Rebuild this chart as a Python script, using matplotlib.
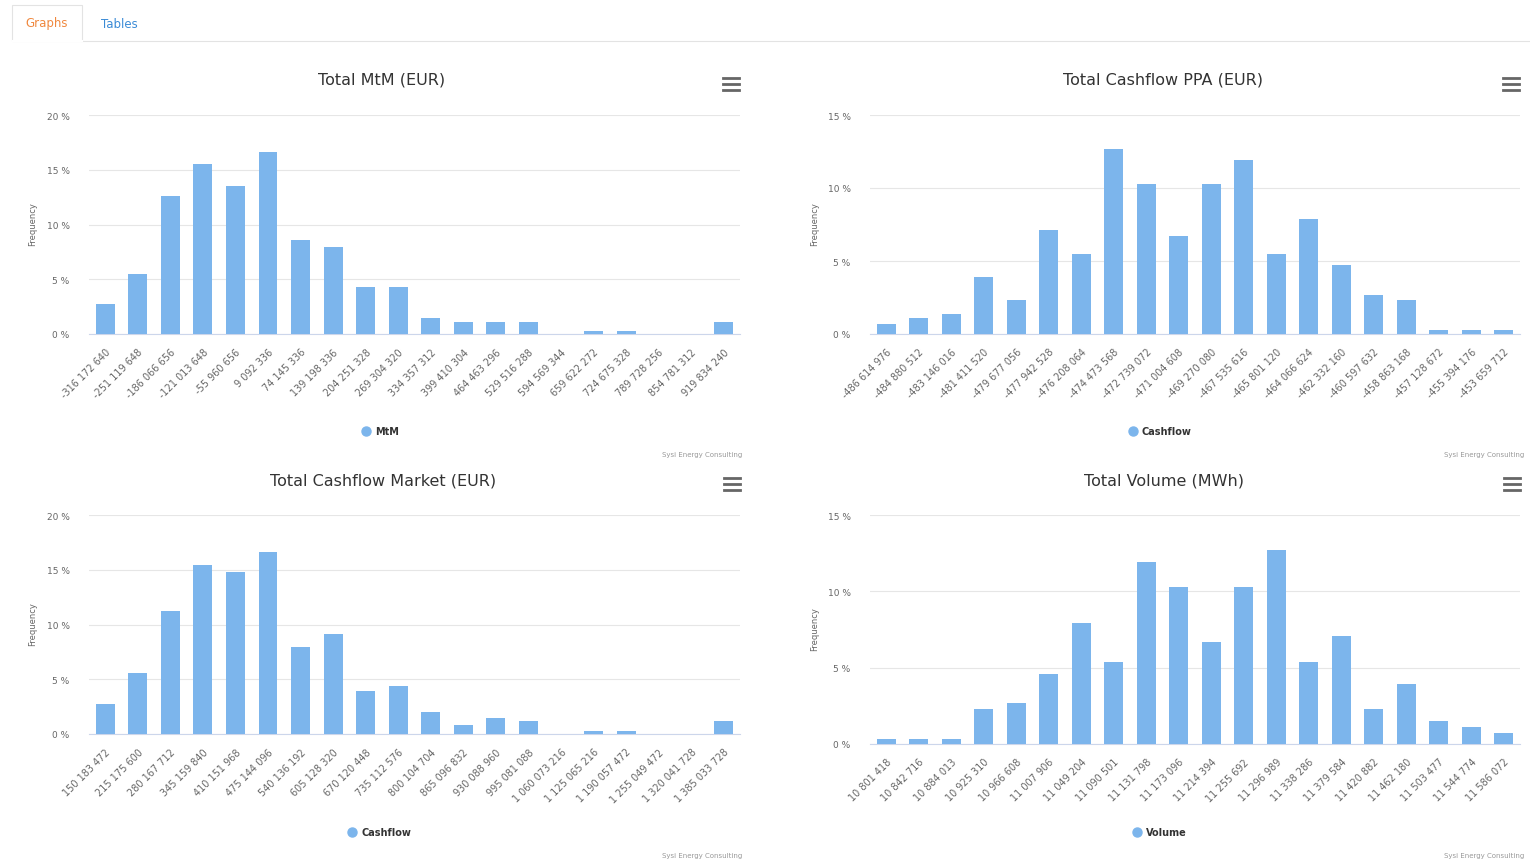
import numpy as np
import matplotlib
matplotlib.use("Agg")
import matplotlib.pyplot as plt
from matplotlib.lines import Line2D
from matplotlib.patches import Rectangle

W, H = 1530, 862
BAR = "#7cb5ec"
GRID = "#e6e6e6"
TXT = "#666666"

# ---------------------------------------------------------------- data
mtm_labels = ["-316 172 640", "-251 119 648", "-186 066 656", "-121 013 648",
              "-55 960 656", "9 092 336", "74 145 336", "139 198 336",
              "204 251 328", "269 304 320", "334 357 312", "399 410 304",
              "464 463 296", "529 516 288", "594 569 344", "659 622 272",
              "724 675 328", "789 728 256", "854 781 312", "919 834 240"]
mtm_freq = [2.7, 5.5, 12.6, 15.5, 13.5, 16.6, 8.6, 7.9, 4.3, 4.3,
            1.5, 1.1, 1.1, 1.1, 0.0, 0.3, 0.3, 0.0, 0.0, 1.1]

ppa_labels = ["-486 614 976", "-484 880 512", "-483 146 016", "-481 411 520",
              "-479 677 056", "-477 942 528", "-476 208 064", "-474 473 568",
              "-472 739 072", "-471 004 608", "-469 270 080", "-467 535 616",
              "-465 801 120", "-464 066 624", "-462 332 160", "-460 597 632",
              "-458 863 168", "-457 128 672", "-455 394 176", "-453 659 712"]
ppa_freq = [0.7, 1.1, 1.4, 3.9, 2.3, 7.1, 5.5, 12.7, 10.3, 6.7,
            10.3, 11.9, 5.5, 7.9, 4.7, 2.7, 2.3, 0.3, 0.3, 0.3]

mkt_labels = ["150 183 472", "215 175 600", "280 167 712", "345 159 840",
              "410 151 968", "475 144 096", "540 136 192", "605 128 320",
              "670 120 448", "735 112 576", "800 104 704", "865 096 832",
              "930 088 960", "995 081 088", "1 060 073 216", "1 125 065 216",
              "1 190 057 472", "1 255 049 472", "1 320 041 728", "1 385 033 728"]
mkt_freq = [2.7, 5.6, 11.2, 15.4, 14.8, 16.6, 7.9, 9.1, 3.9, 4.4,
            2.0, 0.8, 1.5, 1.2, 0.0, 0.3, 0.3, 0.0, 0.0, 1.2]

vol_labels = ["10 801 418", "10 842 716", "10 884 013", "10 925 310",
              "10 966 608", "11 007 906", "11 049 204", "11 090 501",
              "11 131 798", "11 173 096", "11 214 394", "11 255 692",
              "11 296 989", "11 338 286", "11 379 584", "11 420 882",
              "11 462 180", "11 503 477", "11 544 774", "11 586 072"]
vol_freq = [0.3, 0.3, 0.3, 2.3, 2.7, 4.6, 7.9, 5.4, 11.9, 10.3,
            6.7, 10.3, 12.7, 5.4, 7.1, 2.3, 3.9, 1.5, 1.1, 0.7]

plt.rcParams.update({"font.family": "DejaVu Sans"})
fig = plt.figure(figsize=(W / 100, H / 100), dpi=100)


def fx(x):
    return x / W


def fy(y):
    return 1 - y / H


def panel(rect_px, labels, freq, ymax, title, title_xy, series, legend_xy,
          menu_xy, credit_xy, ytitle_x):
    x0, y0, x1, y1 = rect_px
    ax = fig.add_axes([fx(x0), fy(y1), (x1 - x0) / W, (y1 - y0) / H])
    x = np.arange(len(freq))
    ax.bar(x, freq, width=0.58, color=BAR, zorder=3)
    ax.set_xlim(-0.5, len(freq) - 0.5)
    ax.set_ylim(0, ymax)
    yt = np.arange(0, ymax + 0.1, 5)
    ax.set_yticks(yt)
    ax.set_yticklabels([f"{int(v)} %" for v in yt], fontsize=6.5, color=TXT)
    ax.set_xticks(x)
    ax.set_xticklabels(labels, rotation=45, ha="right", rotation_mode="anchor",
                       fontsize=7, color=TXT)
    ax.tick_params(axis="y", length=0, pad=14)
    ax.tick_params(axis="x", length=0, pad=9)
    ax.grid(axis="y", color=GRID, lw=0.8, zorder=0)
    for s in ["top", "right", "left"]:
        ax.spines[s].set_visible(False)
    ax.spines["bottom"].set_color("#ccd6eb")
    ax.spines["bottom"].set_linewidth(0.8)
    ax.set_facecolor("none")

    fig.text(fx(ytitle_x), fy((y0 + y1) / 2 - 1), "Frequency", rotation=90,
             ha="center", va="center", fontsize=6, color=TXT)
    fig.text(fx(title_xy[0]), fy(title_xy[1]), title, ha="center", va="center",
             fontsize=11.5, color="#333333")
    # legend
    lx, ly = legend_xy
    fig.add_artist(Line2D([fx(lx)], [fy(ly)], marker="o", ms=6.5, color=BAR,
                          transform=fig.transFigure))
    fig.text(fx(lx + 9), fy(ly), series, ha="left", va="center", fontsize=7,
             fontweight="bold", color="#333333")
    # hamburger menu
    mx, my = menu_xy
    for dy in (-6, 0, 6):
        fig.add_artist(Line2D([fx(mx - 8), fx(mx + 8)], [fy(my + dy), fy(my + dy)],
                              color="#666666", lw=2.0, transform=fig.transFigure))
    fig.text(fx(credit_xy[0]), fy(credit_xy[1]), "Sysi Energy Consulting",
             ha="right", va="center", fontsize=5, color="#999999")
    return ax


# tabs header
fig.add_artist(Rectangle((fx(12), fy(42)), fx(70), 36 / H, transform=fig.transFigure,
                         fc="white", ec="#e3e3e3", lw=0.8))
fig.add_artist(Line2D([fx(82), fx(1530)], [fy(42), fy(42)], color="#e3e3e3", lw=0.8,
                      transform=fig.transFigure))
fig.add_artist(Line2D([fx(12.5), fx(81.5)], [fy(42), fy(42)], color="white", lw=1.5,
                      transform=fig.transFigure))
fig.text(fx(47), fy(24), "Graphs", ha="center", va="center", fontsize=8.5,
         color="#f0883e")
fig.text(fx(119), fy(24), "Tables", ha="center", va="center", fontsize=8.5,
         color="#3b8bd6")

panel((89, 116, 740, 335), mtm_labels, mtm_freq, 20, "Total MtM (EUR)",
      (382, 80), "MtM", (366, 432), (731, 85), (742, 455), 33)
panel((870, 116, 1520, 335), ppa_labels, ppa_freq, 15, "Total Cashflow PPA (EUR)",
      (1163, 80), "Cashflow", (1133, 432), (1511, 85), (1524, 455), 815)
panel((89, 516, 740, 735), mkt_labels, mkt_freq, 20, "Total Cashflow Market (EUR)",
      (383, 481), "Cashflow", (352, 833), (732, 485), (742, 856), 33)
panel((870, 516, 1520, 745), vol_labels, vol_freq, 15, "Total Volume (MWh)",
      (1164, 481), "Volume", (1137, 833), (1512, 485), (1524, 856), 815)

fig.savefig("out.png", dpi=100)
